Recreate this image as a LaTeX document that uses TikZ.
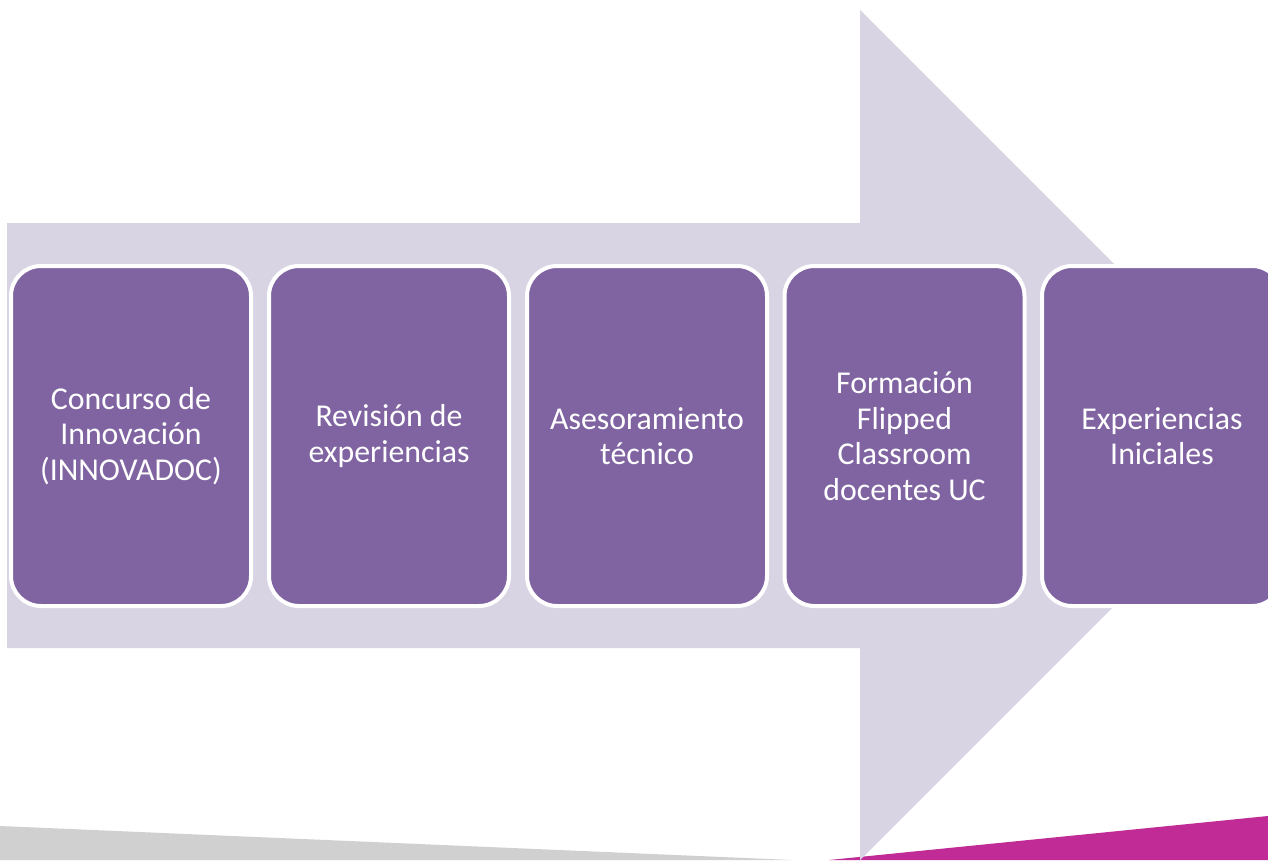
\documentclass[tikz,border=0pt]{standalone}
\usepackage{fontspec}
\setmainfont{Carlito}
\definecolor{arrowcol}{HTML}{D8D4E3}
\definecolor{boxcol}{HTML}{8064A2}
\definecolor{graystrip}{HTML}{D0D0D0}
\definecolor{magstrip}{HTML}{C02B96}
\tikzset{
  stagebox/.style={rectangle, rounded corners=30pt, fill=boxcol, draw=white, line width=4pt,
    minimum width=240pt, minimum height=340pt, text=white, align=center, inner sep=0pt,
    font=\fontsize{31.8}{35.5}\selectfont}
}
\begin{document}
\begin{tikzpicture}[x=1pt,y=-1pt]
\useasboundingbox (0,0) rectangle (1268,860);
\clip (0,0) rectangle (1268,860);
\fill[white] (0,0) rectangle (1268,860);
% bottom decorative strips
\fill[graystrip] (0,826) -- (792,860) -- (0,860) -- cycle;
\fill[magstrip] (829,860) -- (1268,816) -- (1268,860) -- cycle;
% big arrow
\fill[arrowcol] (7,223) -- (860,223) -- (860,10) -- (1285,435) -- (860,860) -- (860,648) -- (7,648) -- cycle;
% stages
\node[stagebox] (s1) at (131,436) {Concurso de\\Innovación\\(INNOVADOC)};
\node[stagebox] (s2) at (389,436) {Revisión de\\experiencias};
\node[stagebox] (s3) at (647,436) {Asesoramiento\\técnico};
\node[stagebox] (s4) at (904.5,436) {Formación\\Flipped\\Classroom\\docentes UC};
\node[stagebox] (s5) at (1162,436) {Experiencias\\Iniciales};
\end{tikzpicture}
\end{document}
